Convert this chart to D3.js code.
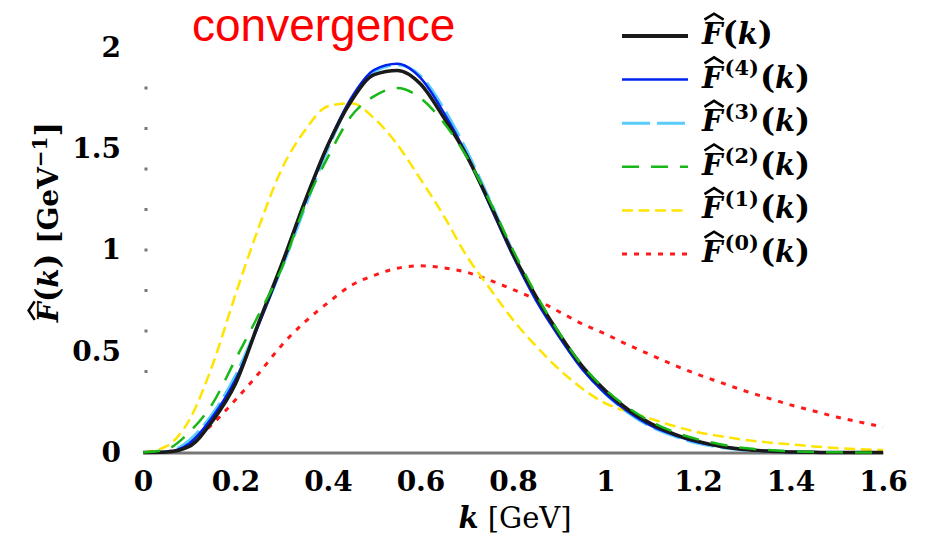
<!DOCTYPE html>
<html>
<head>
<meta charset="utf-8">
<title>convergence</title>
<script src="https://cdn.jsdelivr.net/npm/d3@7"></script>
<style>
  body { margin: 0; background: #fff; }
  svg { display: block; }
</style>
</head>
<body>
<script>
  var width = 926, height = 538;

  // k grid [GeV] and the curves
  var kValues = [0, 0.05, 0.1, 0.15, 0.2, 0.25, 0.3, 0.35, 0.4, 0.45, 0.5, 0.55, 0.6, 0.65, 0.7, 0.75, 0.8,
    0.85, 0.9, 0.95, 1.0, 1.05, 1.1, 1.15, 1.2, 1.25, 1.3, 1.35, 1.4, 1.45, 1.5, 1.55, 1.6];
  var fExact = [0, 0.002, 0.03, 0.155, 0.34, 0.64, 0.93, 1.24, 1.52, 1.735, 1.866, 1.887, 1.82, 1.655, 1.465, 1.23, 0.98,
    0.77, 0.585, 0.425, 0.305, 0.21, 0.14, 0.09, 0.055, 0.03, 0.015, 0.007, 0.003, 0.001, 0, 0, 0];
  var f4 = [0, 0.003, 0.045, 0.175, 0.36, 0.63, 0.92, 1.23, 1.52, 1.75, 1.89, 1.92, 1.85, 1.68, 1.47, 1.22, 0.97,
    0.75, 0.57, 0.41, 0.29, 0.2, 0.13, 0.085, 0.05, 0.03, 0.015, 0.007, 0.003, 0.001, 0, 0, 0];
  var f3 = [0, 0.004, 0.06, 0.19, 0.38, 0.64, 0.91, 1.21, 1.5, 1.74, 1.88, 1.915, 1.86, 1.7, 1.49, 1.245, 0.99,
    0.765, 0.575, 0.415, 0.29, 0.195, 0.125, 0.08, 0.045, 0.025, 0.012, 0.006, 0.002, 0.001, 0, 0, 0];
  var f2 = [0, 0.015, 0.1, 0.24, 0.46, 0.68, 0.91, 1.22, 1.46, 1.66, 1.76, 1.8, 1.75, 1.63, 1.46, 1.24, 1.0,
    0.78, 0.59, 0.43, 0.31, 0.22, 0.15, 0.1, 0.065, 0.04, 0.022, 0.012, 0.006, 0.003, 0.001, 0, 0];
  var f1 = [0, 0.03, 0.16, 0.43, 0.78, 1.11, 1.4, 1.59, 1.71, 1.725, 1.65, 1.52, 1.35, 1.17, 0.97, 0.81, 0.655,
    0.525, 0.41, 0.315, 0.243, 0.2, 0.165, 0.13, 0.1, 0.08, 0.063, 0.05, 0.04, 0.03, 0.022, 0.016, 0.012];
  var f0 = [0, 0.004, 0.045, 0.14, 0.26, 0.39, 0.53, 0.645, 0.74, 0.825, 0.875, 0.91, 0.922, 0.912, 0.89, 0.85, 0.805,
    0.755, 0.695, 0.635, 0.585, 0.53, 0.48, 0.43, 0.385, 0.345, 0.305, 0.27, 0.235, 0.205, 0.175, 0.15, 0.126];

  var xTicks = [0, 0.2, 0.4, 0.6, 0.8, 1, 1.2, 1.4, 1.6];
  var yTicks = [0, 0.5, 1, 1.5, 2];
  var yMinorTicks = [0.4, 0.6, 0.8, 1.0, 1.2, 1.4, 1.6, 1.8];

  var serif = 'DejaVu Serif';

  var svg = d3.select('body').append('svg')
    .attr('width', width)
    .attr('height', height);

  var x = d3.scaleLinear().domain([0, 1.6]).range([143, 883]);
  var y = d3.scaleLinear().domain([0, 2]).range([452.5, 47.5]);

  // series, drawn bottom to top
  var series = [
    {sup: '0', values: f0, color: '#ff1a1a', w: 3, dash: '5,7'},
    {sup: '1', values: f1, color: '#ffe400', w: 2.5, dash: '11,5.5'},
    {sup: '3', values: f3, color: '#5bcdfc', w: 3, dash: '28,7'},
    {sup: '4', values: f4, color: '#0022ee', w: 2.5, dash: null},
    {sup: '', values: fExact, color: '#1a1a1a', w: 3.5, dash: null},
    {sup: '2', values: f2, color: '#18b818', w: 2.5, dash: '17,12'}
  ];
  var legendOrder = ['', '4', '3', '2', '1', '0'];

  var line = d3.line()
    .x(function (d, i) { return x(kValues[i]); })
    .y(function (d) { return y(d); })
    .curve(d3.curveMonotoneX);

  // x axis
  var xAxis = svg.append('g')
    .attr('transform', 'translate(0,' + y(0) + ')')
    .call(d3.axisBottom(x).tickValues(xTicks).tickSize(0).tickSizeOuter(0).tickPadding(19)
      .tickFormat(function (d) { return String(d); }));
  xAxis.select('.domain').attr('stroke', '#777').attr('stroke-width', 3);
  xAxis.selectAll('text')
    .style('font-family', serif).style('font-weight', 'bold').style('font-size', '28px').attr('fill', '#000');

  // y axis (labels only)
  var yAxis = svg.append('g')
    .attr('transform', 'translate(' + x(0) + ',0)')
    .call(d3.axisLeft(y).tickValues(yTicks).tickSize(0).tickPadding(22)
      .tickFormat(function (d) { return String(d); }));
  yAxis.select('.domain').remove();
  yAxis.selectAll('text')
    .style('font-family', serif).style('font-weight', 'bold').style('font-size', '28px').attr('fill', '#000');

  svg.append('g').selectAll('rect')
    .data(yMinorTicks)
    .join('rect')
    .attr('x', x(0) + 1.5)
    .attr('y', function (d) { return y(d) - 1.5; })
    .attr('width', 3)
    .attr('height', 3)
    .attr('fill', '#777');

  // curves
  svg.append('g').selectAll('path')
    .data(series)
    .join('path')
    .attr('d', function (d) { return line(d.values); })
    .attr('fill', 'none')
    .attr('stroke', function (d) { return d.color; })
    .attr('stroke-width', function (d) { return d.w; })
    .attr('stroke-dasharray', function (d) { return d.dash; })
    .attr('stroke-linejoin', 'round');

  // F-hat(k) label, optional superscript and extra tail
  function hatF(g, tx, ty, size, sup, tail) {
    var big = Math.round(size * 1.12) + 'px';
    var t = g.append('text').attr('x', tx).attr('y', ty)
      .style('font-family', serif).style('font-weight', 'bold').style('font-size', size + 'px');
    t.append('tspan').style('font-style', 'italic').text('F');
    if (sup) {
      t.append('tspan').attr('dx', 2).attr('dy', -0.42 * size).style('font-size', (size * 0.72) + 'px').text('(' + sup + ')');
      t.append('tspan').attr('dx', 1).attr('dy', 0.42 * size).style('font-size', big).text('(');
    } else {
      t.append('tspan').style('font-size', big).text('(');
    }
    t.append('tspan').style('font-style', 'italic').text('k');
    t.append('tspan').style('font-size', big).text(')');
    if (tail) tail(t);
    return t;
  }

  function addHat(g, t) {
    var b = t.node().getExtentOfChar(0);
    var x0 = b.x + b.width * 0.12, x1 = b.x + b.width * 1.05, top = b.y + b.height * 0.02;
    g.append('path')
      .attr('d', 'M' + x0 + ',' + (top + 2) + 'L' + ((x0 + x1) / 2) + ',' + (top - 4) + 'L' + x1 + ',' + (top + 2))
      .attr('fill', 'none').attr('stroke', '#000').attr('stroke-width', 2.6);
  }

  // legend
  var legend = svg.append('g');
  legendOrder.forEach(function (sup, i) {
    var s = series.filter(function (d) { return d.sup === sup; })[0];
    var ly = 36 + i * 43.6;
    legend.append('line')
      .attr('x1', 622).attr('x2', 688).attr('y1', ly).attr('y2', ly)
      .attr('stroke', s.color).attr('stroke-width', s.w + (sup === '' ? 0.5 : 0))
      .attr('stroke-dasharray', s.dash);
    addHat(legend, hatF(legend, 702, ly + 8, 29, sup));
  });

  // y label
  var yl = svg.append('g').attr('transform', 'translate(58,222) rotate(-90)');
  var ylt = hatF(yl, 0, 0, 28, '', function (t) {
    t.append('tspan').text(' [GeV');
    t.append('tspan').attr('dy', -11).style('font-size', '20px').text('\u22121');
    t.append('tspan').attr('dy', 11).style('font-size', '31px').text(']');
  });
  ylt.attr('text-anchor', 'middle');
  addHat(yl, ylt);

  // x label
  var xl = svg.append('text').attr('x', 515).attr('y', 528).attr('text-anchor', 'middle')
    .style('font-family', serif).style('font-size', '29px');
  xl.append('tspan').style('font-style', 'italic').style('font-weight', 'bold').text('k');
  xl.append('tspan').text(' [GeV]');

  // title
  svg.append('text').attr('x', 192).attr('y', 41)
    .style('font-family', 'Liberation Sans').style('font-size', '46px')
    .attr('fill', '#ff0000')
    .text('convergence');
</script>
</body>
</html>
